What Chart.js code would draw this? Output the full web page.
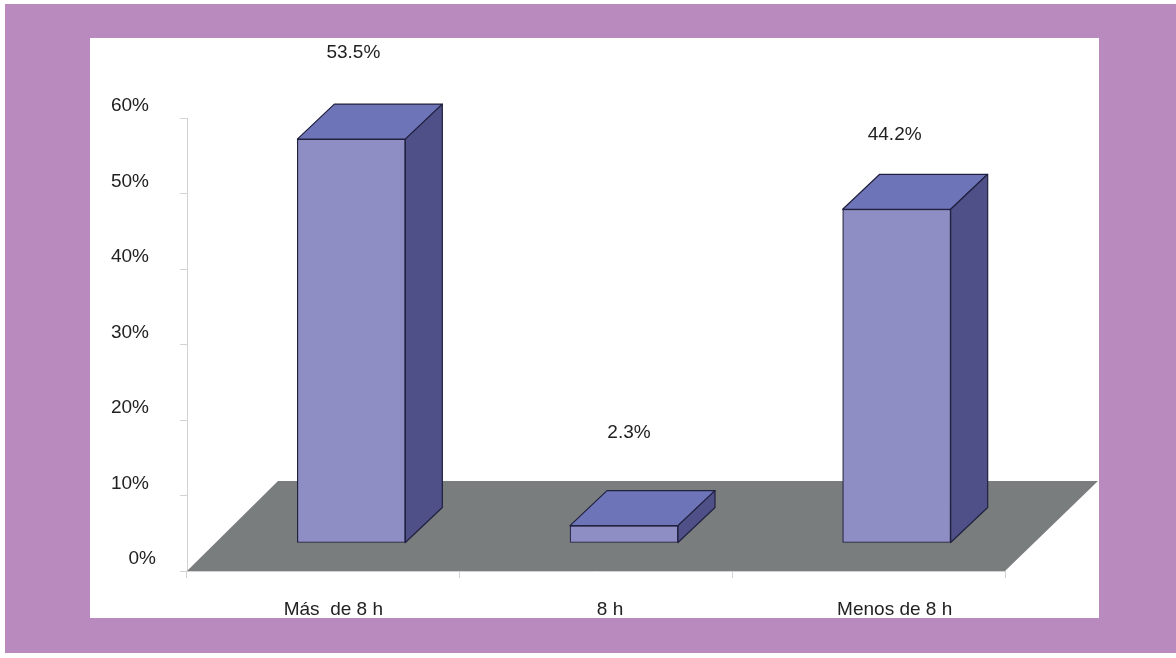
<!DOCTYPE html>
<html lang="es">
<head>
<meta charset="utf-8">
<title>Horas</title>
<style>
  html, body { margin: 0; padding: 0; background: #fff; }
  #frame { position: absolute; left: 5px; top: 4px; width: 1171px; height: 649px; background: #b88abd; }
  #panel { position: absolute; left: 90px; top: 38px; width: 1009px; height: 580px; background: #fff; overflow: hidden; }
  canvas { display: block; }
</style>
<script src="https://cdn.jsdelivr.net/npm/chart.js@4"></script>
</head>
<body>
<div id="frame"></div>
<div id="panel"><canvas id="chart" width="1009" height="599"></canvas></div>
<script>
const categories = ['Más  de 8 h', '8 h', 'Menos de 8 h'];
const shares = [53.5, 2.3, 44.2];
const tickValues = [0, 10, 20, 30, 40, 50, 60];

const COLORS = { front: '#8e8dc4', top: '#6e74b8', side: '#4f5088', floor: '#7a7d7e', axis: '#d2d2d2', edge: '#20203f', text: '#222' };
const FAMILY = '"Liberation Sans", Arial, sans-serif';
const FONT = '19px ' + FAMILY;
const PLANE_SHIFT = 28;            // bars stand in the middle of the floor
const DEPTH = { x: 37, y: 35 };
const LABEL_GAP = [51, 58, 40];    // rise of each value label above the back edge of its bar
const LABEL_NUDGE = [2, 5, -2];    // sideways offset of each value label
const CATEGORY_NUDGE = [10, 14, 26]; // sideways offset of each category label

const solid = {
  id: 'solid',
  beforeDatasetsDraw(chart) {
    const { ctx, scales: { x, y } } = chart;
    // floor
    const base = y.getPixelForValue(0);
    ctx.save();
    ctx.fillStyle = COLORS.floor;
    ctx.beginPath();
    ctx.moveTo(x.left, base);
    ctx.lineTo(x.right, base);
    ctx.lineTo(x.right + 93, base - 90);
    ctx.lineTo(x.left + 91, base - 90);
    ctx.closePath();
    ctx.fill();
    ctx.restore();
    // front faces are painted by the library in the shifted plane
    ctx.save();
    ctx.translate(PLANE_SHIFT, -PLANE_SHIFT);
  },
  afterDatasetsDraw(chart) {
    const { ctx } = chart;
    const bars = chart.getDatasetMeta(0).data;
    ctx.strokeStyle = COLORS.edge;
    ctx.lineWidth = 1.2;
    ctx.lineJoin = 'round';
    bars.forEach((bar) => {
      const half = bar.width / 2;
      const l = bar.x - half, r = bar.x + half, t = bar.y, b = bar.base;
      ctx.fillStyle = COLORS.top;
      ctx.beginPath();
      ctx.moveTo(l, t); ctx.lineTo(l + DEPTH.x, t - DEPTH.y);
      ctx.lineTo(r + DEPTH.x, t - DEPTH.y); ctx.lineTo(r, t);
      ctx.closePath(); ctx.fill(); ctx.stroke();
      ctx.fillStyle = COLORS.side;
      ctx.beginPath();
      ctx.moveTo(r, t); ctx.lineTo(r + DEPTH.x, t - DEPTH.y);
      ctx.lineTo(r + DEPTH.x, b - DEPTH.y); ctx.lineTo(r, b);
      ctx.closePath(); ctx.fill(); ctx.stroke();
    });
    ctx.restore();

    const { x, y } = chart.scales;
    ctx.save();
    ctx.font = FONT;
    ctx.fillStyle = COLORS.text;
    ctx.textBaseline = 'middle';

    // value labels above each bar
    ctx.textAlign = 'center';
    bars.forEach((bar, i) => {
      const top = bar.y - PLANE_SHIFT - DEPTH.y;
      ctx.fillText(shares[i].toFixed(1) + '%', bar.x + PLANE_SHIFT + LABEL_NUDGE[i], top - LABEL_GAP[i]);
    });

    // category labels below the axis
    categories.forEach((name, i) => {
      ctx.fillText(name, x.getPixelForValue(i) + CATEGORY_NUDGE[i], y.getPixelForValue(0) + 39);
    });

    // value-axis labels sit a little above their ticks
    ctx.textAlign = 'right';
    tickValues.forEach((v) => {
      ctx.fillText(v + '%', y.left - 38 + (v === 0 ? 7 : 0), y.getPixelForValue(v) - 12);
    });
    ctx.restore();
  }
};

new Chart(document.getElementById('chart'), {
  type: 'bar',
  data: {
    labels: categories,
    datasets: [{
      data: shares,
      backgroundColor: COLORS.front,
      borderColor: COLORS.edge,
      borderWidth: 1.2,
      borderSkipped: false,
      barThickness: 108
    }]
  },
  plugins: [solid],
  options: {
    responsive: false,
    animation: false,
    events: [],
    layout: { padding: { left: 97, right: 94, top: 80, bottom: 0 } },
    plugins: { legend: { display: false }, tooltip: { enabled: false } },
    scales: {
      x: {
        afterFit(scale) { scale.height = 66; },
        grid: { drawOnChartArea: false, color: COLORS.axis, tickLength: 7, offset: true },
        border: { color: COLORS.axis },
        ticks: { display: false }
      },
      y: {
        min: 0, max: 60,
        afterFit(scale) { scale.width = 0; },
        grid: { drawOnChartArea: false, color: COLORS.axis, tickLength: 7 },
        border: { color: COLORS.axis },
        ticks: { stepSize: 10, display: false }
      }
    }
  }
});
</script>
</body>
</html>
